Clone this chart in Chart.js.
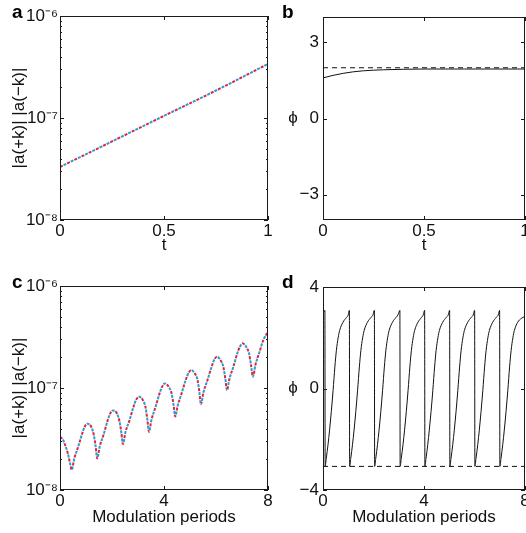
<!DOCTYPE html>
<html>
<head>
<meta charset="utf-8">
<script src="https://cdn.jsdelivr.net/npm/chart.js@4.4.0/dist/chart.umd.min.js"></script>
<style>
  html, body { margin: 0; padding: 0; background: #fff; width: 526px; height: 533px; overflow: hidden; }
  canvas { position: absolute; }
  .tag { position: absolute; font: bold 19px "Liberation Sans", Arial, sans-serif; line-height: 19px; color: #000; }
  .ylab { position: absolute; width: 16px; text-align: center; font: 17px "Liberation Sans", Arial, sans-serif; line-height: 20px; color: #111; }
</style>
</head>
<body>
<canvas id="chartA" width="275" height="263" style="left:0;top:0"></canvas>
<canvas id="chartB" width="285" height="263" style="left:263px;top:0"></canvas>
<canvas id="chartC" width="275" height="263" style="left:0;top:270px"></canvas>
<canvas id="chartD" width="285" height="263" style="left:263px;top:270px"></canvas>
<div class="tag" style="left:12px;top:2px">a</div>
<div class="tag" style="left:282px;top:2px">b</div>
<div class="tag" style="left:12px;top:272px">c</div>
<div class="tag" style="left:282px;top:272px">d</div>
<div class="ylab" style="left:285px;top:108px">ϕ</div>
<div class="ylab" style="left:285px;top:378px">ϕ</div>
<script>
// panel a: |a(+k)|, |a(-k)| vs t (log)
const tA = [0, 0.25, 0.5, 0.75, 1]
const aPosA = [3.31e-8, 5.89e-8, 1.05e-7, 1.86e-7, 3.39e-7]
const aNegA = [3.31e-8, 5.89e-8, 1.05e-7, 1.86e-7, 3.39e-7]

// panel b: phase vs t
const tB = [0, 0.05, 0.1, 0.15, 0.2, 0.3, 0.4, 0.5, 0.7, 1]
const phiB = [1.6, 1.7, 1.78, 1.84, 1.88, 1.92, 1.94, 1.95, 1.95, 1.95]
const tRefB = [0, 1]
const phiRefB = [2.0, 2.0]

// panel c: amplitudes over modulation periods (log)
const tC = [0, 0.1, 0.2, 0.3, 0.38, 0.45, 0.55, 0.7, 0.85, 0.95,
  1.05, 1.2, 1.3, 1.37, 1.43, 1.53, 1.68, 1.83, 1.93,
  2.04, 2.19, 2.29, 2.36, 2.42, 2.52, 2.67, 2.82, 2.92,
  3.04, 3.19, 3.29, 3.36, 3.42, 3.52, 3.67, 3.82, 3.92,
  4.04, 4.19, 4.29, 4.37, 4.43, 4.53, 4.68, 4.83, 4.93,
  5.04, 5.19, 5.29, 5.36, 5.42, 5.52, 5.67, 5.82, 5.92,
  6.03, 6.18, 6.28, 6.36, 6.42, 6.52, 6.67, 6.82, 6.92,
  7.02, 7.17, 7.27, 7.35, 7.42, 7.52, 7.67, 7.82, 8.0]
const aPosC = [3.31e-8, 3.16e-8, 2.75e-8, 2.29e-8, 1.86e-8, 1.58e-8, 2.04e-8, 2.66e-8, 3.55e-8, 4.17e-8,
  4.47e-8, 4.17e-8, 3.47e-8, 2.69e-8, 2.04e-8, 2.69e-8, 3.51e-8, 4.79e-8, 5.62e-8,
  6.03e-8, 5.62e-8, 4.68e-8, 3.63e-8, 2.82e-8, 3.72e-8, 4.79e-8, 6.46e-8, 7.59e-8,
  8.22e-8, 7.59e-8, 6.46e-8, 4.90e-8, 3.72e-8, 4.90e-8, 6.46e-8, 8.71e-8, 1.02e-7,
  1.11e-7, 1.02e-7, 8.91e-8, 6.76e-8, 5.25e-8, 6.76e-8, 8.91e-8, 1.19e-7, 1.38e-7,
  1.50e-7, 1.38e-7, 1.20e-7, 9.12e-8, 6.92e-8, 9.12e-8, 1.19e-7, 1.58e-7, 1.86e-7,
  2.03e-7, 1.86e-7, 1.62e-7, 1.23e-7, 9.55e-8, 1.24e-7, 1.62e-7, 2.19e-7, 2.54e-7,
  2.74e-7, 2.51e-7, 2.19e-7, 1.66e-7, 1.29e-7, 1.70e-7, 2.24e-7, 2.95e-7, 3.56e-7]
const aNegC = [3.31e-8, 3.16e-8, 2.75e-8, 2.29e-8, 1.86e-8, 1.58e-8, 2.04e-8, 2.66e-8, 3.55e-8, 4.17e-8,
  4.47e-8, 4.17e-8, 3.47e-8, 2.69e-8, 2.04e-8, 2.69e-8, 3.51e-8, 4.79e-8, 5.62e-8,
  6.03e-8, 5.62e-8, 4.68e-8, 3.63e-8, 2.82e-8, 3.72e-8, 4.79e-8, 6.46e-8, 7.59e-8,
  8.22e-8, 7.59e-8, 6.46e-8, 4.90e-8, 3.72e-8, 4.90e-8, 6.46e-8, 8.71e-8, 1.02e-7,
  1.11e-7, 1.02e-7, 8.91e-8, 6.76e-8, 5.25e-8, 6.76e-8, 8.91e-8, 1.19e-7, 1.38e-7,
  1.50e-7, 1.38e-7, 1.20e-7, 9.12e-8, 6.92e-8, 9.12e-8, 1.19e-7, 1.58e-7, 1.86e-7,
  2.03e-7, 1.86e-7, 1.62e-7, 1.23e-7, 9.55e-8, 1.24e-7, 1.62e-7, 2.19e-7, 2.54e-7,
  2.74e-7, 2.51e-7, 2.19e-7, 1.66e-7, 1.29e-7, 1.70e-7, 2.24e-7, 2.95e-7, 3.56e-7]

// panel d: wrapped phase over modulation periods
const tD = [0, 0.04, 0.075,
  0.085, 0.13, 0.20, 0.26, 0.33, 0.40, 0.47, 0.53, 0.60, 0.66, 0.79, 0.93, 1.00, 1.045,
  1.055, 1.10, 1.17, 1.23, 1.30, 1.37, 1.44, 1.50, 1.57, 1.63, 1.76, 1.90, 1.98, 2.035,
  2.045, 2.09, 2.16, 2.22, 2.29, 2.36, 2.43, 2.49, 2.56, 2.62, 2.75, 2.89, 2.97, 3.045,
  3.055, 3.10, 3.17, 3.23, 3.30, 3.37, 3.44, 3.50, 3.57, 3.63, 3.76, 3.90, 3.97, 4.025,
  4.035, 4.08, 4.15, 4.21, 4.28, 4.35, 4.42, 4.48, 4.55, 4.61, 4.74, 4.88, 4.96, 5.015,
  5.025, 5.07, 5.14, 5.20, 5.27, 5.34, 5.41, 5.47, 5.54, 5.60, 5.73, 5.87, 5.95, 6.005,
  6.015, 6.06, 6.13, 6.19, 6.26, 6.33, 6.40, 6.46, 6.53, 6.59, 6.72, 6.86, 6.94, 6.995,
  7.005, 7.05, 7.12, 7.18, 7.25, 7.32, 7.39, 7.45, 7.52, 7.58, 7.71, 7.85, 8.0]
const phiD = [2.98, 3.02, 3.08,
  -3.07, -2.75, -2.2, -1.64, -0.9, -0.07, 0.85, 1.5, 2.0, 2.29, 2.61, 2.8, 2.9, 3.08,
  -3.07, -2.75, -2.2, -1.64, -0.9, -0.07, 0.85, 1.5, 2.0, 2.29, 2.61, 2.8, 2.9, 3.08,
  -3.07, -2.75, -2.2, -1.64, -0.9, -0.07, 0.85, 1.5, 2.0, 2.29, 2.61, 2.8, 2.9, 3.08,
  -3.07, -2.75, -2.2, -1.64, -0.9, -0.07, 0.85, 1.5, 2.0, 2.29, 2.61, 2.8, 2.9, 3.08,
  -3.07, -2.75, -2.2, -1.64, -0.9, -0.07, 0.85, 1.5, 2.0, 2.29, 2.61, 2.8, 2.9, 3.08,
  -3.07, -2.75, -2.2, -1.64, -0.9, -0.07, 0.85, 1.5, 2.0, 2.29, 2.61, 2.8, 2.9, 3.08,
  -3.07, -2.75, -2.2, -1.64, -0.9, -0.07, 0.85, 1.5, 2.0, 2.29, 2.61, 2.8, 2.9, 3.08,
  -3.07, -2.75, -2.2, -1.64, -0.9, -0.07, 0.85, 1.5, 2.0, 2.29, 2.61, 2.76, 2.84]
const tRefD = [0, 8]
const phiRefD = [-3.07, -3.07]

// ticks
const xTicksT = [0, 0.5, 1]
const xTicksMod = [0, 4, 8]
const yTicksLog = [1e-8, 1e-7, 1e-6]
const yLabelsLog = ['10⁻⁸', '10⁻⁷', '10⁻⁶']
const yTicksB = [-3, 0, 3]
const yTicksD = [-4, 0, 4]

const RED = '#d9283c'
const BLUE = '#2a9bd6'
const INK = '#111111'

Chart.defaults.font.family = '"Liberation Sans", Arial, Helvetica, sans-serif'
Chart.defaults.font.size = 17
Chart.defaults.color = INK

const pts = (xs, ys) => xs.map((x, i) => ({x: x, y: ys[i]}))

// minor ticks between the decades of the log axis
const logMinor = []
for (let i = 0; i < yTicksLog.length - 1; i++) {
  for (let k = 2; k <= 9; k++) logMinor.push(k * yTicksLog[i])
}

// MATLAB-ish box with inward ticks on all four sides
const boxTicks = {
  id: 'boxTicks',
  afterDraw(chart, args, opts) {
    const ctx = chart.ctx
    const ca = chart.chartArea
    const x = chart.scales.x, y = chart.scales.y
    ctx.save()
    ctx.strokeStyle = '#1a1a1a'
    ctx.lineWidth = 1
    ctx.beginPath()
    const seg = (x1, y1, x2, y2) => { ctx.moveTo(x1, y1); ctx.lineTo(x2, y2) }
    x.ticks.forEach(t => {
      const p = Math.round(x.getPixelForValue(t.value)) + 0.5
      seg(p, ca.bottom, p, ca.bottom - 4); seg(p, ca.top, p, ca.top + 4)
    })
    y.ticks.forEach(t => {
      const p = Math.round(y.getPixelForValue(t.value)) + 0.5
      seg(ca.left, p, ca.left + 4, p); seg(ca.right, p, ca.right - 4, p)
    })
    ;(opts.minor || []).forEach(v => {
      const p = Math.round(y.getPixelForValue(v)) + 0.5
      seg(ca.left, p, ca.left + 2, p); seg(ca.right, p, ca.right - 2, p)
    })
    ctx.stroke()
    ctx.strokeRect(ca.left + 0.5, ca.top + 0.5, ca.right - ca.left - 1, ca.bottom - ca.top - 1)
    ctx.restore()
  }
}

function xScale(ticks, title, titlePad) {
  return {
    type: 'linear',
    min: ticks[0],
    max: ticks[ticks.length - 1],
    afterBuildTicks: s => { s.ticks = ticks.map(v => ({value: v})) },
    afterFit: s => { s.height = 43 },
    grid: {display: false, drawTicks: false},
    border: {display: false},
    ticks: {padding: 1, maxRotation: 0, autoSkip: false, callback: v => String(v)},
    title: {display: true, text: title, padding: {top: 0, bottom: titlePad}}
  }
}

function logScale() {
  return {
    type: 'logarithmic',
    min: yTicksLog[0],
    max: yTicksLog[yTicksLog.length - 1],
    afterBuildTicks: s => { s.ticks = yTicksLog.map(v => ({value: v})) },
    afterFit: s => { s.width = 60 },
    grid: {display: false, drawTicks: false},
    border: {display: false},
    ticks: {padding: 2, autoSkip: false, callback: (v, i) => yLabelsLog[i]},
    title: {display: true, text: '|a(+k)| |a(−k)|', padding: {top: 9, bottom: 0}}
  }
}

function linScale(ticks, lo, hi) {
  return {
    type: 'linear',
    min: lo,
    max: hi,
    afterBuildTicks: s => { s.ticks = ticks.map(v => ({value: v})) },
    afterFit: s => { s.width = 60 },
    grid: {display: false, drawTicks: false},
    border: {display: false},
    ticks: {padding: 4, autoSkip: false, callback: v => (v < 0 ? '−' + Math.abs(v) : String(v))}
  }
}

function ampSets(xs, pos, neg) {
  return [
    {data: pts(xs, pos), borderColor: RED, borderWidth: 2, borderDash: [3, 5], borderDashOffset: 0,
      pointRadius: 0, cubicInterpolationMode: 'monotone', fill: false},
    {data: pts(xs, neg), borderColor: BLUE, borderWidth: 2, borderDash: [3, 5], borderDashOffset: 4,
      pointRadius: 0, cubicInterpolationMode: 'monotone', fill: false}
  ]
}

function phaseSets(xs, ys, rx, ry) {
  return [
    {data: pts(xs, ys), borderColor: INK, borderWidth: 1, pointRadius: 0,
      cubicInterpolationMode: 'monotone', fill: false},
    {data: pts(rx, ry), borderColor: INK, borderWidth: 1, borderDash: [5, 4], pointRadius: 0, fill: false}
  ]
}

function baseOptions(pad, xs, ys, minor) {
  return {
    responsive: false,
    animation: false,
    layout: {padding: pad},
    plugins: {legend: {display: false}, tooltip: {enabled: false}, boxTicks: {minor: minor}},
    scales: {x: xs, y: ys}
  }
}

new Chart(document.getElementById('chartA'), {
  type: 'line',
  data: {datasets: ampSets(tA, aPosA, aNegA)},
  options: baseOptions({left: 0, top: 16, right: 7, bottom: 0}, xScale(xTicksT, 't', 7), logScale(), logMinor),
  plugins: [boxTicks]
})

new Chart(document.getElementById('chartB'), {
  type: 'line',
  data: {datasets: phaseSets(tB, phiB, tRefB, phiRefB)},
  options: baseOptions({left: 0, top: 17, right: 23, bottom: 0}, xScale(xTicksT, 't', 7), linScale(yTicksB, -4, 4), null),
  plugins: [boxTicks]
})

new Chart(document.getElementById('chartC'), {
  type: 'line',
  data: {datasets: ampSets(tC, aPosC, aNegC)},
  options: baseOptions({left: 0, top: 16, right: 7, bottom: 0}, xScale(xTicksMod, 'Modulation periods', 5), logScale(), logMinor),
  plugins: [boxTicks]
})

new Chart(document.getElementById('chartD'), {
  type: 'line',
  data: {datasets: phaseSets(tD, phiD, tRefD, phiRefD)},
  options: baseOptions({left: 0, top: 17, right: 23, bottom: 0}, xScale(xTicksMod, 'Modulation periods', 5), linScale(yTicksD, -4, 4), null),
  plugins: [boxTicks]
})
</script>
</body>
</html>
